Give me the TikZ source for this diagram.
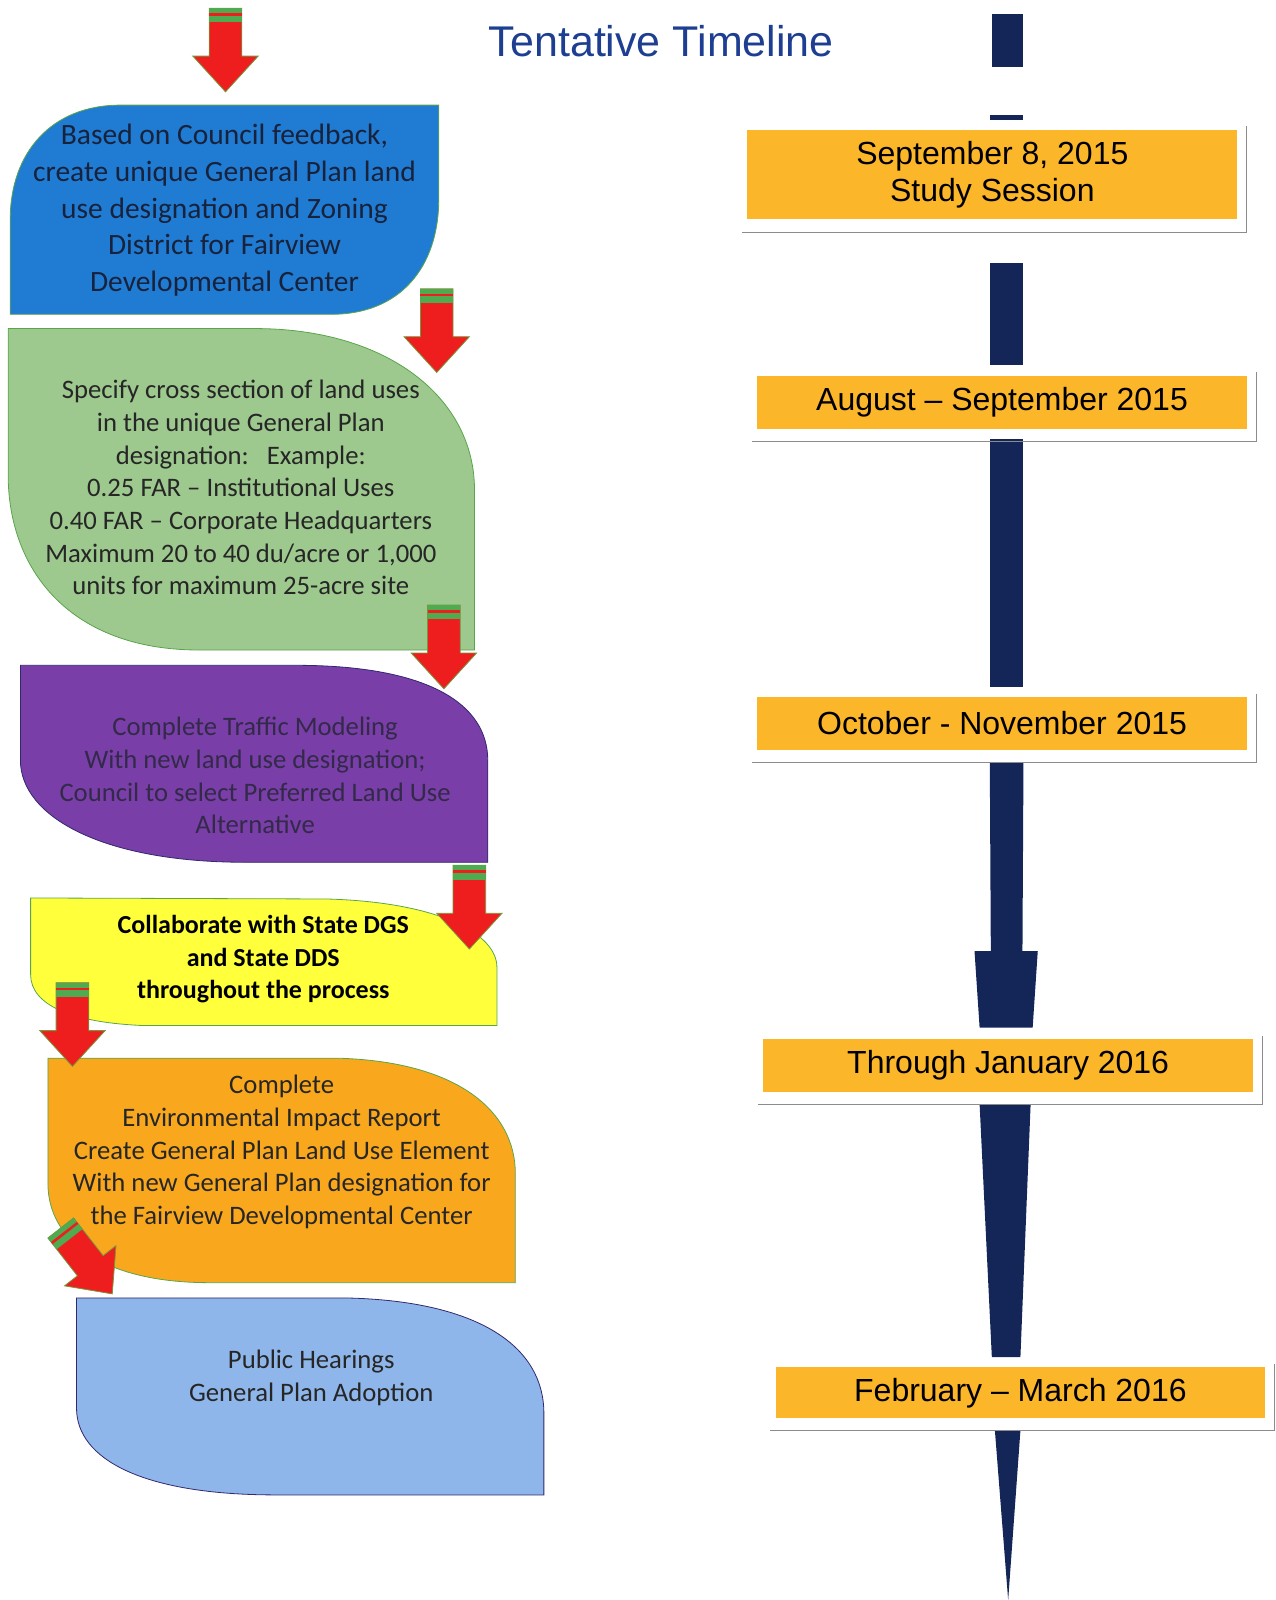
\documentclass[tikz,border=0pt]{standalone}
\usepackage{fontspec}
\setmainfont{Carlito}
\newfontfamily\arialfont{Liberation Sans}
\usetikzlibrary{calc}

\definecolor{titleblue}{RGB}{30,63,145}
\definecolor{barnavy}{RGB}{20,38,88}
\definecolor{dateorange}{RGB}{251,182,42}
\definecolor{arrowred}{RGB}{238,30,30}
\definecolor{arrowgreen}{RGB}{80,170,80}
\definecolor{arrowedge}{RGB}{120,150,60}
\definecolor{stepblue}{RGB}{32,124,210}
\definecolor{stepgreen}{RGB}{157,200,142}
\definecolor{steppurple}{RGB}{122,62,168}
\definecolor{stepyellow}{RGB}{255,255,60}
\definecolor{steporange}{RGB}{249,168,30}
\definecolor{steplight}{RGB}{142,182,234}
\definecolor{edgegreen}{RGB}{90,165,75}
\definecolor{edgenavy}{RGB}{50,40,110}

\tikzset{
  redarrow/.pic={
    \filldraw[fill=arrowred,draw=arrowedge,line width=0.8pt](-16,-82)--(16,-82)--(16,-35)--(32,-35)--(0,0)--(-32,-35)--(-16,-35)--cycle;
    \fill[arrowgreen](-16,-82)rectangle(16,-68);
    \fill[arrowred](-16,-77)rectangle(16,-74.5);
  }
}

\begin{document}
\begin{tikzpicture}[x=1.0208pt,y=-1.0208pt,
    steptext/.style={align=center,inner sep=0pt,font=\fontsize{26.7}{32.7}\selectfont,text=black!85},
    datebox/.style={fill=dateorange,inner sep=0pt,align=center,minimum width=490pt,minimum height=53pt,
      font=\arialfont\fontsize{32}{37}\selectfont},
    dateframe/.style={draw=black!45,line width=0.8pt}]
                \useasboundingbox(0,0)rectangle(1250,1568);
                % Title
                \node[text=titleblue,font=\arialfont\fontsize{43}{50}\selectfont](title)at(648,40){Tentative Timeline};
                % Timeline bars
                \fill[barnavy](972,14)rectangle(1003,66);
                \fill[barnavy](970,113)rectangle(1003,118);
                \fill[barnavy](970,258)rectangle(1003,358);
                \fill[barnavy](970,430)rectangle(1003,673);
                \fill[barnavy](970,747)--(1003,747)--(1002,932)--(1017,932)--(1012,1007)--(960,1007)--(955,932)--(971,932)--cycle;
                \fill[barnavy](960,1082)--(1010,1082)--(1000,1330)--(972,1330)--cycle;
                \fill[barnavy](975,1402)--(1000,1402)--(988,1568)--cycle;
                % Date boxes
                \node[datebox,minimum height=90pt](sep)at(972.5,171){September 8, 2015\\Study Session};
                \node[datebox](aug)at(982,394){August – September 2015};
                \node[datebox](oct)at(982,709){October - November 2015};
                \node[datebox](jan)at(988,1044){Through January 2016};
                \node[datebox,minimum height=51pt](feb)at(1000,1365){February – March 2016};
                \foreach \d in {sep,aug,oct,jan,feb}
                    \draw[dateframe]($(\d.north east)+(9,-3)$)|-($(\d.south west)+(-5,12)$);
                % Step shapes
                \filldraw[fill=stepblue,draw=edgegreen,line width=0.8pt](10,308)--(10,215)..controls(10,150)and(50,103)..(118,103)--(430,103)--(430,195)..controls(430,262)and(392,308)..(325,308)--cycle;
                \filldraw[fill=stepgreen,draw=edgegreen,line width=0.8pt](8,322)--(250,322)..controls(380,322)and(465,390)..(465,480)--(465,637)--(195,637)..controls(70,637)and(8,560)..(8,465)--cycle;
                \filldraw[fill=steppurple,draw=edgenavy,line width=0.8pt](20,652)--(290,652)..controls(420,652)and(478,690)..(478,745)--(478,845)--(240,845)..controls(100,845)and(20,800)..(20,745)--cycle;
                \filldraw[fill=stepyellow,draw=edgegreen,line width=0.8pt](30,880)--(320,881)..controls(430,884)and(487,915)..(487,948)--(487,1005)--(140,1005)..controls(70,1002)and(30,985)..(30,955)--cycle;
                \filldraw[fill=steporange,draw=edgegreen,line width=0.8pt](47,1037)--(330,1037)..controls(450,1040)and(505,1090)..(505,1150)--(505,1257)--(205,1257)..controls(100,1257)and(47,1215)..(47,1160)--cycle;
                \filldraw[fill=steplight,draw=edgenavy,line width=0.8pt](75,1272)--(340,1272)..controls(470,1275)and(533,1320)..(533,1385)--(533,1465)--(270,1465)..controls(140,1465)and(75,1430)..(75,1380)--cycle;
                % Step texts
                \node[steptext,font=\fontsize{29.5}{36.7}\selectfont,text={rgb,255:red,24;green,34;blue,60}](council)at(220,206){Based on Council feedback,\\create unique General Plan land\\use designation and Zoning\\District for Fairview\\Developmental Center};
                \node[steptext](landuses)at(236,478){Specify cross section of land uses\\in the unique General Plan\\designation:\ \ \ Example:\\0.25 FAR – Institutional Uses\\0.40 FAR – Corporate Headquarters\\Maximum 20 to 40 du/acre or 1,000\\units for maximum 25-acre site};
                \node[steptext,text={rgb,255:red,50;green,42;blue,72}](traffic)at(250,760){Complete Traffic Modeling\\With new land use designation;\\Council to select Preferred Land Use\\Alternative};
                \node[steptext,font=\bfseries\fontsize{26}{32.7}\selectfont,text=black](collab)at(258,940){Collaborate with State DGS\\and State DDS\\throughout the process};
                \node[steptext](eir)at(276,1129){Complete\\Environmental Impact Report\\Create General Plan Land Use Element\\With new General Plan designation for\\the Fairview Developmental Center};
                \node[steptext](hearings)at(305,1350){Public Hearings\\General Plan Adoption};
                % Red arrows
                \pic at(221,90){redarrow};
                \pic at(428,365){redarrow};
                \pic at(435,675){redarrow};
                \pic at(460,930){redarrow};
                \pic at(71,1045){redarrow};
                \pic[rotate=38]at(110,1268){redarrow};
\end{tikzpicture}
\end{document}
